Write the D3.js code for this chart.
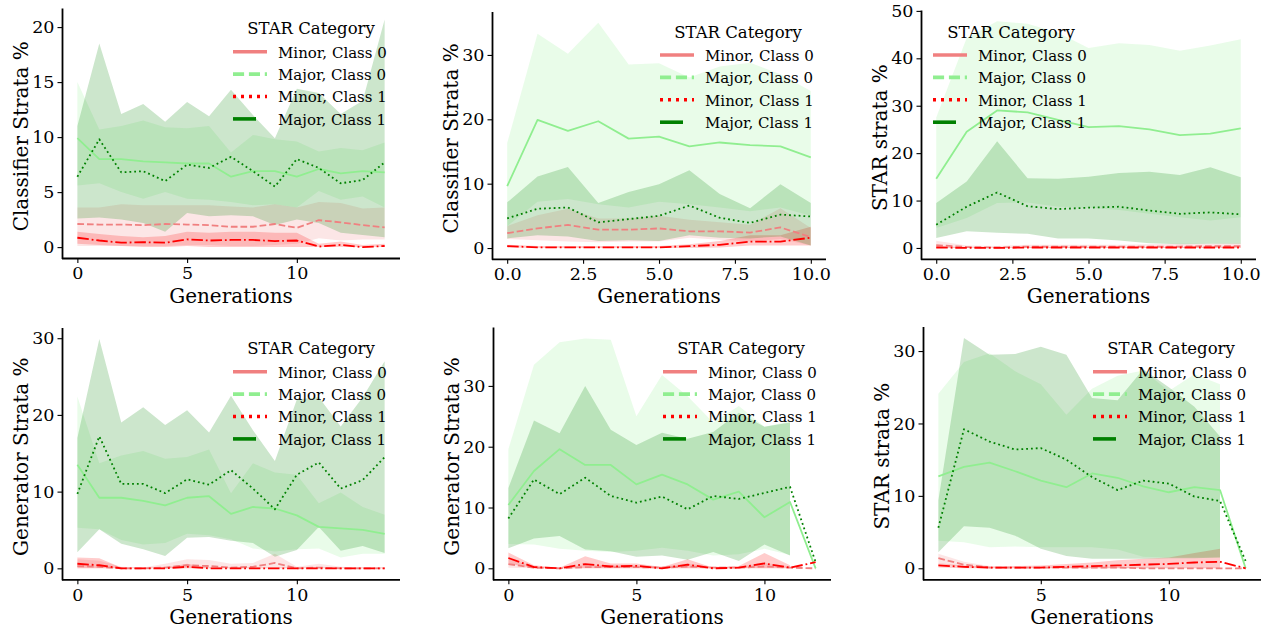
<!DOCTYPE html>
<html><head><meta charset="utf-8">
<script src="https://cdn.jsdelivr.net/npm/d3@7"></script>
<style>
body{margin:0;background:#fff}
svg{display:block}
text{font-family:"DejaVu Serif",serif;fill:#000}
</style>
</head><body>
<svg id="chart" width="1271" height="630"></svg>
<script>
// ---------------- DATA ----------------
const seriesNames = ["Minor, Class 0", "Major, Class 0", "Minor, Class 1", "Major, Class 1"];
const legendTitle = "STAR Category";
const xLabel = "Generations";

// Panel 1: Classifier Strata % (top-left)
const p1_gens = [0,1,2,3,4,5,6,7,8,9,10,11,12,13,14];
const p1_min0_mean = [2.1,2.05,2.05,2.0,2.1,2.05,2.0,1.85,1.85,2.1,1.75,2.45,2.25,2.0,1.8];
const p1_min0_lo   = [0.1,0.1,0.1,0.1,0.1,0.2,0.2,0.1,0.1,0.2,0.3,0.8,0.6,0.7,0.7];
const p1_min0_hi   = [3.6,3.6,3.9,3.8,3.8,3.8,3.8,3.7,3.6,3.9,3.6,4.1,4.0,3.5,3.6];
const p1_maj0_mean = [9.9,8.0,8.0,7.8,7.7,7.6,7.6,6.4,6.9,6.9,6.4,7.1,6.7,6.9,6.8];
const p1_maj0_lo   = [5.6,5.8,5.0,4.4,5.0,4.4,4.3,4.1,3.8,3.9,3.6,5.1,4.3,4.6,3.6];
const p1_maj0_hi   = [15.0,10.7,11.0,11.5,10.9,10.8,11.0,8.6,10.2,9.8,9.6,8.7,9.0,8.8,9.5];
const p1_min1_mean = [0.85,0.6,0.4,0.45,0.4,0.7,0.6,0.65,0.65,0.55,0.6,0.05,0.2,0.0,0.1];
const p1_min1_lo   = [0.3,0.2,0.1,0.0,0.0,0.1,0.0,0.0,0.0,0.0,0.0,0.0,0.0,0.0,0.0];
const p1_min1_hi   = [1.4,1.2,1.0,0.9,1.0,1.4,1.3,1.4,1.4,1.3,1.3,0.3,0.5,0.2,0.3];
const p1_maj1_mean = [6.4,9.8,6.8,6.9,6.0,7.5,7.2,8.2,6.9,5.5,8.0,7.2,5.8,6.1,7.7];
const p1_maj1_lo   = [2.6,2.7,2.5,2.2,1.4,3.1,2.8,2.9,2.8,2.0,2.5,2.2,1.3,1.1,0.9];
const p1_maj1_hi   = [11.0,18.5,12.1,13.0,11.4,13.2,11.9,14.3,12.0,9.9,14.4,14.0,12.1,13.3,20.7];
const p1_xticks = [0,5,10];
const p1_yticks = [0,5,10,15,20];

// Panel 2: Classifier Strata % (top-middle)
const p2_gens = [0,1,2,3,4,5,6,7,8,9,10];
const p2_min0_mean = [2.3,3.05,3.6,2.85,2.85,3.05,2.6,2.6,2.4,3.2,1.7];
const p2_min0_lo   = [1.4,1.2,1.0,0.9,1.0,1.0,1.6,1.3,1.0,1.4,0.4];
const p2_min0_hi   = [3.4,5.1,6.1,4.6,4.6,5.0,4.4,4.0,3.6,6.2,3.1];
const p2_maj0_mean = [9.6,19.9,18.2,19.7,17.0,17.3,15.8,16.4,16.0,15.8,14.1];
const p2_maj0_lo   = [3.4,7.2,7.6,6.8,6.3,7.2,6.8,6.3,5.7,6.3,5.0];
const p2_maj0_hi   = [16.3,33.3,30.2,35.0,28.5,28.7,26.5,28.2,28.8,27.0,24.4];
const p2_min1_mean = [0.3,0.1,0.1,0.1,0.1,0.1,0.3,0.5,1.0,1.0,1.6];
const p2_min1_lo   = [0.1,0.0,0.0,0.0,0.0,0.0,0.0,0.1,0.4,0.4,0.4];
const p2_min1_hi   = [0.5,0.3,0.3,0.3,0.3,0.3,0.6,1.1,2.0,2.0,3.3];
const p2_maj1_mean = [4.6,6.1,6.3,4.0,4.5,5.0,6.6,4.7,3.9,5.2,4.9];
const p2_maj1_lo   = [1.5,2.0,1.8,1.1,1.2,1.1,2.0,1.6,1.5,1.8,0.4];
const p2_maj1_hi   = [7.1,11.1,12.6,7.0,8.7,9.9,12.1,8.4,6.2,9.9,7.0];
const p2_xticks = [0,2.5,5,7.5,10];
const p2_yticks = [0,10,20,30];

// Panel 3: STAR strata % (top-right)
const p3_gens = [0,1,2,3,4,5,6,7,8,9,10];
const p3_min0_mean = [0.6,0.2,0.1,0.3,0.3,0.3,0.3,0.3,0.3,0.4,0.4];
const p3_min0_lo   = [0.1,0.0,0.0,0.0,0.0,0.0,0.0,0.0,0.0,0.0,0.0];
const p3_min0_hi   = [1.5,0.5,0.4,0.7,0.7,0.7,0.7,0.8,0.9,0.9,1.0];
const p3_maj0_mean = [14.6,24.5,29.0,28.6,27.0,25.5,25.7,25.0,23.8,24.1,25.2];
const p3_maj0_lo   = [4.2,6.3,9.5,9.6,8.7,8.5,8.0,7.2,6.5,5.8,6.5];
const p3_maj0_hi   = [27.5,44.3,47.8,47.3,45.4,42.2,43.2,42.8,41.6,42.7,44.0];
const p3_min1_mean = [0.1,0.0,0.0,0.1,0.1,0.1,0.1,0.1,0.1,0.1,0.1];
const p3_min1_lo   = [0,0,0,0,0,0,0,0,0,0,0];
const p3_min1_hi   = [0.4,0.1,0.1,0.2,0.2,0.2,0.2,0.2,0.2,0.2,0.2];
const p3_maj1_mean = [4.9,8.7,11.7,8.8,8.2,8.5,8.7,7.9,7.2,7.5,7.1];
const p3_maj1_lo   = [2.1,3.5,3.2,3.0,2.0,2.0,1.6,1.0,0.8,0.9,0.9];
const p3_maj1_hi   = [9.5,14.0,22.5,14.7,14.6,15.0,15.8,16.1,15.4,17.0,14.9];
const p3_xticks = [0,2.5,5,7.5,10];
const p3_yticks = [0,10,20,30,40,50];

// Panel 4: Generator Strata % (bottom-left)
const p4_gens = [0,1,2,3,4,5,6,7,8,9,10,11,12,13,14];
const p4_min0_mean = [0.3,0.2,0.0,0.0,0.1,0.4,0.3,0.1,0.2,0.7,0.0,0.1,0.0,0.0,0.0];
const p4_min0_lo   = [0,0,0,0,0,0,0,0,0,0,0,0,0,0,0];
const p4_min0_hi   = [1.2,1.0,0.2,0.1,0.6,1.2,1.1,0.6,0.7,1.9,0.2,0.6,0.2,0.1,0.1];
const p4_maj0_mean = [13.5,9.2,9.2,8.8,8.2,9.2,9.4,7.1,8.0,7.8,6.9,5.4,5.2,5.0,4.5];
const p4_maj0_lo   = [5.3,5.1,3.7,3.1,3.3,4.5,4.3,3.8,2.6,2.2,2.5,2.6,1.4,1.9,1.9];
const p4_maj0_hi   = [22.4,13.7,14.7,15.3,14.3,14.5,15.5,9.8,13.7,12.5,12.2,8.5,9.9,8.0,7.0];
const p4_min1_mean = [0.6,0.4,0.0,0.0,0.0,0.2,0.0,0.0,0.0,0.0,0.0,0.0,0.0,0.0,0.0];
const p4_min1_lo   = [0,0,0,0,0,0,0,0,0,0,0,0,0,0,0];
const p4_min1_hi   = [1.4,1.3,0.1,0.1,0.1,0.6,0.1,0.1,0.1,0.1,0.1,0.1,0.1,0.1,0.1];
const p4_maj1_mean = [9.7,17.2,11.0,11.0,9.8,11.6,10.9,12.8,10.4,7.7,12.2,13.8,10.4,11.5,14.5];
const p4_maj1_lo   = [2.1,5.1,3.2,2.5,1.6,4.0,4.1,3.6,3.3,1.5,2.4,5.4,2.3,2.9,2.0];
const p4_maj1_hi   = [17.0,29.9,19.0,21.0,18.7,20.6,17.7,22.5,18.0,14.0,22.0,22.3,18.5,22.3,27.0];
const p4_xticks = [0,5,10];
const p4_yticks = [0,10,20,30];

// Panel 5: Generator Strata % (bottom-middle); no band at last generation
const p5_gens = [0,1,2,3,4,5,6,7,8,9,10,11,12];
const p5_min0_mean = [0.7,0.1,0.0,0.2,0.2,0.2,0.1,0.3,0.1,0.1,0.3,0.1,0.0];
const p5_min0_lo   = [0.1,0,0,0,0,0,0,0,0,0,0,0,null];
const p5_min0_hi   = [1.6,0.3,0.1,0.6,0.5,0.5,0.3,0.8,0.3,0.3,0.9,0.3,null];
const p5_maj0_mean = [10.4,16.0,19.6,17.0,17.0,13.8,15.4,13.8,11.3,12.6,8.4,10.9,0.0];
const p5_maj0_lo   = [4.0,3.9,3.2,2.9,2.7,2.9,3.4,2.9,2.1,2.3,3.2,2.2,null];
const p5_maj0_hi   = [19.6,33.5,37.2,37.8,37.6,25.0,31.8,28.3,24.0,26.7,23.3,24.2,null];
const p5_min1_mean = [1.7,0.2,0.0,0.7,0.3,0.4,0.0,0.6,0.0,0.1,0.8,0.1,1.0];
const p5_min1_lo   = [0.8,0,0,0,0,0,0,0,0,0,0,0,null];
const p5_min1_hi   = [2.6,0.5,0.1,2.0,0.8,0.8,0.2,1.5,0.1,0.4,2.5,0.5,null];
const p5_maj1_mean = [8.2,14.6,12.2,14.9,11.9,10.8,11.8,9.7,11.9,11.4,12.4,13.4,1.0];
const p5_maj1_lo   = [3.3,4.9,5.3,3.1,2.8,1.9,2.1,1.4,2.7,1.2,3.9,2.1,null];
const p5_maj1_hi   = [13.2,24.3,22.2,30.0,22.8,20.3,22.3,21.3,22.4,25.6,23.3,24.0,null];
const p5_xticks = [0,5,10];
const p5_yticks = [0,10,20,30];

// Panel 6: STAR strata % (bottom-right); no band at last generation
const p6_gens = [1,2,3,4,5,6,7,8,9,10,11,12,13];
const p6_min0_mean = [1.4,0.5,0.1,0.1,0.1,0.1,0.1,0.1,0.0,0.0,0.0,0.0,0.0];
const p6_min0_lo   = [0.7,0.1,0,0,0,0,0,0,0,0,0,0,null];
const p6_min0_hi   = [2.0,0.9,0.3,0.2,0.2,0.2,0.2,0.2,0.1,0.1,0.1,0.1,null];
const p6_maj0_mean = [12.7,14.0,14.6,13.4,12.1,11.2,13.1,12.5,11.3,10.5,11.2,10.8,0.0];
const p6_maj0_lo   = [3.8,3.6,2.9,3.0,2.9,2.9,2.9,2.6,1.6,1.5,1.5,1.5,null];
const p6_maj0_hi   = [24.1,28.5,29.7,27.2,25.4,21.2,24.8,26.6,27.3,24.5,26.8,25.4,null];
const p6_min1_mean = [0.4,0.2,0.1,0.1,0.1,0.2,0.3,0.4,0.5,0.6,0.8,0.9,0.0];
const p6_min1_lo   = [0.1,0,0,0,0,0,0,0,0,0,0,0,null];
const p6_min1_hi   = [0.7,0.4,0.2,0.3,0.4,0.6,0.8,1.1,1.3,1.5,2.1,2.7,null];
const p6_maj1_mean = [5.6,19.2,17.5,16.4,16.6,15.0,12.6,10.8,12.1,11.7,9.9,9.3,1.0];
const p6_maj1_lo   = [2.2,5.8,5.6,4.5,2.7,1.7,1.3,1.3,1.3,1.4,1.4,1.5,null];
const p6_maj1_hi   = [9.4,31.8,29.5,29.6,30.6,29.5,23.5,23.2,27.5,25.0,22.3,18.2,null];
const p6_xticks = [5,10];
const p6_yticks = [0,10,20,30];

// ---------------- STYLE / LAYOUT ----------------
const colors = ["#F08080", "#90EE90", "#FF0000", "#008000"];
const LW = 1.8;
const plotDash = [ "6.7,2.9", null, "11.5,2.9,1.8,2.9", "1.8,3.0" ];   // as drawn in the axes
const legDash  = [ null, "11.1,4.8", "3,5", null ];                  // as drawn in the legend
const legLen   = [ 34, 34, 34, 23 ];
const TICK_FS = 17.5, LABEL_FS = 20, LEG_FS = 15, LEG_TITLE_FS = 16.5;

function S(mean, lo, hi){ return {mean, lo, hi}; }
const panels = [
  {gens:p1_gens, ylabel:"Classifier Strata %", xticks:p1_xticks, yticks:p1_yticks, xfmt:d3.format("d"),
   series:[S(p1_min0_mean,p1_min0_lo,p1_min0_hi),S(p1_maj0_mean,p1_maj0_lo,p1_maj0_hi),S(p1_min1_mean,p1_min1_lo,p1_min1_hi),S(p1_maj1_mean,p1_maj1_lo,p1_maj1_hi)],
   box:{l:62,r:400,t:8,b:258.5}, leg:{x:233,y:51.7}},
  {gens:p2_gens, ylabel:"Classifier Strata %", xticks:p2_xticks, yticks:p2_yticks, xfmt:d3.format(".1f"),
   series:[S(p2_min0_mean,p2_min0_lo,p2_min0_hi),S(p2_maj0_mean,p2_maj0_lo,p2_maj0_hi),S(p2_min1_mean,p2_min1_lo,p2_min1_hi),S(p2_maj1_mean,p2_maj1_lo,p2_maj1_hi)],
   box:{l:492,r:826,t:11.5,b:259.3}, leg:{x:660,y:55}},
  {gens:p3_gens, ylabel:"STAR strata %", xticks:p3_xticks, yticks:p3_yticks, xfmt:d3.format(".1f"),
   series:[S(p3_min0_mean,p3_min0_lo,p3_min0_hi),S(p3_maj0_mean,p3_maj0_lo,p3_maj0_hi),S(p3_min1_mean,p3_min1_lo,p3_min1_hi),S(p3_maj1_mean,p3_maj1_lo,p3_maj1_hi)],
   box:{l:921,r:1256,t:10,b:259.3}, leg:{x:933,y:55}},
  {gens:p4_gens, ylabel:"Generator Strata %", xticks:p4_xticks, yticks:p4_yticks, xfmt:d3.format("d"),
   series:[S(p4_min0_mean,p4_min0_lo,p4_min0_hi),S(p4_maj0_mean,p4_maj0_lo,p4_maj0_hi),S(p4_min1_mean,p4_min1_lo,p4_min1_hi),S(p4_maj1_mean,p4_maj1_lo,p4_maj1_hi)],
   box:{l:62,r:400,t:327.5,b:579.8}, leg:{x:233,y:371.7}},
  {gens:p5_gens, ylabel:"Generator Strata %", xticks:p5_xticks, yticks:p5_yticks, xfmt:d3.format("d"),
   series:[S(p5_min0_mean,p5_min0_lo,p5_min0_hi),S(p5_maj0_mean,p5_maj0_lo,p5_maj0_hi),S(p5_min1_mean,p5_min1_lo,p5_min1_hi),S(p5_maj1_mean,p5_maj1_lo,p5_maj1_hi)],
   box:{l:493,r:831,t:327,b:579.8}, leg:{x:663,y:371.7}},
  {gens:p6_gens, ylabel:"STAR strata %", xticks:p6_xticks, yticks:p6_yticks, xfmt:d3.format("d"),
   series:[S(p6_min0_mean,p6_min0_lo,p6_min0_hi),S(p6_maj0_mean,p6_maj0_lo,p6_maj0_hi),S(p6_min1_mean,p6_min1_lo,p6_min1_hi),S(p6_maj1_mean,p6_maj1_lo,p6_maj1_hi)],
   box:{l:923,r:1261,t:326.5,b:579.8}, leg:{x:1093,y:371.7}}
];

// ---------------- DRAW ----------------
const svg = d3.select("#chart");

panels.forEach((p, pi) => {
  const g = svg.append("g");
  const b = p.box;

  // domains with 5% margins like matplotlib autoscale
  const gx = d3.extent(p.gens);
  const xr = gx[1] - gx[0];
  const x = d3.scaleLinear().domain([gx[0] - 0.05*xr, gx[1] + 0.05*xr]).range([b.l, b.r]);
  const allY = [];
  p.series.forEach(s => { s.mean.forEach(v => allY.push(v)); s.lo.forEach(v => { if (v != null) allY.push(v); }); s.hi.forEach(v => { if (v != null) allY.push(v); }); });
  const ye = d3.extent(allY);
  const yr = ye[1] - ye[0];
  const y = d3.scaleLinear().domain([ye[0] - 0.05*yr, ye[1] + 0.05*yr]).range([b.b, b.t]);

  const clipId = "clip" + pi;
  svg.append("clipPath").attr("id", clipId).append("rect")
    .attr("x", b.l).attr("y", b.t).attr("width", b.r - b.l).attr("height", b.b - b.t);
  const plot = g.append("g").attr("clip-path", `url(#${clipId})`);

  // bands (zorder below lines)
  p.series.forEach((s, si) => {
    const rows = p.gens.map((gv, i) => ({g: gv, lo: s.lo[i], hi: s.hi[i]}));
    const area = d3.area()
      .defined(d => d.lo != null && d.hi != null)
      .x(d => x(d.g)).y0(d => y(d.lo)).y1(d => y(d.hi));
    plot.append("path").datum(rows).attr("d", area)
      .attr("fill", colors[si]).attr("fill-opacity", 0.2).attr("stroke", "none");
  });
  // lines
  p.series.forEach((s, si) => {
    const rows = p.gens.map((gv, i) => ({g: gv, v: s.mean[i]}));
    const line = d3.line().x(d => x(d.g)).y(d => y(d.v));
    const path = plot.append("path").datum(rows).attr("d", line)
      .attr("fill", "none").attr("stroke", colors[si]).attr("stroke-width", LW)
      .attr("stroke-linejoin", "round");
    if (plotDash[si]) path.attr("stroke-dasharray", plotDash[si]);
  });

  // axes
  const xAxis = d3.axisBottom(x).tickValues(p.xticks).tickFormat(p.xfmt).tickSize(4.5).tickSizeOuter(0).tickPadding(4);
  const yAxis = d3.axisLeft(y).tickValues(p.yticks).tickFormat(d3.format("d")).tickSize(4.5).tickSizeOuter(0).tickPadding(3);
  const gxA = g.append("g").attr("transform", `translate(0,${b.b})`).call(xAxis);
  const gyA = g.append("g").attr("transform", `translate(${b.l},0)`).call(yAxis);
  [gxA, gyA].forEach(a => {
    a.select(".domain").attr("stroke", "#000").attr("stroke-width", 1.8);
    a.selectAll(".tick line").attr("stroke", "#000").attr("stroke-width", 1.1);
    a.selectAll(".tick text").attr("font-family", "DejaVu Serif").attr("font-size", TICK_FS).attr("fill", "#000");
  });
  gxA.select(".domain").attr("d", `M${b.l},0H${b.r}`);

  // axis labels
  g.append("text").attr("x", (b.l + b.r)/2).attr("y", b.b + 44)
    .attr("text-anchor", "middle").attr("font-size", LABEL_FS).text(xLabel);
  g.append("text").attr("transform", `translate(${b.l - 34},${(b.t + b.b)/2 + 3}) rotate(-90)`)
    .attr("text-anchor", "middle").attr("font-size", LABEL_FS).text(p.ylabel);

  // legend (no frame)
  const L = p.leg;
  const lg = g.append("g");
  lg.append("text").attr("x", L.x + 78).attr("y", L.y - 17.4)
    .attr("text-anchor", "middle").attr("font-size", LEG_TITLE_FS).text(legendTitle);
  seriesNames.forEach((name, si) => {
    const yy = L.y + si * 22.4;
    const ln = lg.append("line").attr("x1", L.x).attr("x2", L.x + legLen[si])
      .attr("y1", yy).attr("y2", yy).attr("stroke", colors[si]).attr("stroke-width", 3.6);
    if (legDash[si]) ln.attr("stroke-dasharray", legDash[si]);
    lg.append("text").attr("x", L.x + 45).attr("y", yy + 5.8)
      .attr("font-size", LEG_FS).text(name);
  });
});
</script>
</body></html>
